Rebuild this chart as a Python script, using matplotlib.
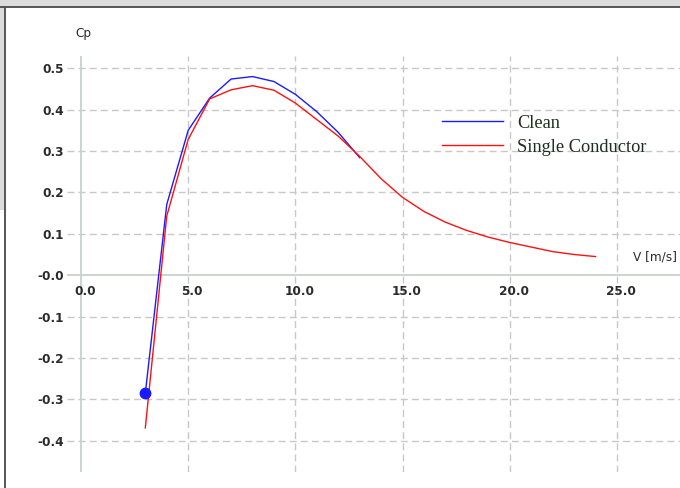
import matplotlib
matplotlib.use("Agg")
import matplotlib.pyplot as plt
import matplotlib.transforms as mtransforms
from matplotlib.lines import Line2D
from matplotlib.patches import Rectangle

# wind speed [m/s] and power coefficient
v_clean = [3, 4, 5, 6, 7, 8, 9, 10, 11, 12, 13]
cp_clean = [-0.285, 0.171, 0.350, 0.428, 0.474, 0.480, 0.468, 0.437, 0.395, 0.345, 0.284]

v_single = [3, 4, 5, 6, 7, 8, 9, 10, 11, 12, 13, 14, 15, 16, 17, 18, 19, 20, 21, 22, 23, 24]
cp_single = [-0.369, 0.143, 0.328, 0.426, 0.448, 0.458, 0.447, 0.416, 0.376, 0.336, 0.287,
             0.233, 0.188, 0.154, 0.128, 0.108, 0.092, 0.079, 0.068, 0.057, 0.050, 0.045]

x_ticks = [0, 5, 10, 15, 20, 25]
x_labels = ["0.0", "5.0", "10.0", "15.0", "20.0", "25.0"]
y_ticks = [-0.4, -0.3, -0.2, -0.1, 0.0, 0.1, 0.2, 0.3, 0.4, 0.5]
y_labels = ["-0.4", "-0.3", "-0.2", "-0.1", "-0.0", "0.1", "0.2", "0.3", "0.4", "0.5"]

txt = "#2b2b2b"
grid_c = "#c8c8c8"

fig = plt.figure(figsize=(6.8, 4.88), dpi=100)
W, H = 680, 488
ax = fig.add_axes([67 / W, (H - 472) / H, 1 - 67 / W, (472 - 56) / H])
ax.set_xlim(-0.653, 27.94)
ax.set_ylim(-0.4756, 0.5297)
for s in ax.spines.values():
    s.set_visible(False)

# dashed grid, solid axes through the origin
for x in x_ticks[1:]:
    ax.axvline(x, color=grid_c, lw=1.0, ls=(0, (5, 3)), zorder=0)
for y in y_ticks:
    if y != 0:
        ax.axhline(y, color=grid_c, lw=1.0, ls=(0, (5, 3)), zorder=0)
ax.axhline(0, color="#c9d1c9", lw=1.3, zorder=0)
ax.axvline(0, color="#c9d1c9", lw=1.3, zorder=0)

ax.plot(v_clean, cp_clean, color="#1a1aff", lw=1.0, label="Clean")
ax.plot(v_single, cp_single, color="#ff1010", lw=1.0, label="Single Conductor")
ax.plot(v_clean[0], cp_clean[0], "o", color="#1a1aff", ms=7.5)

ax.tick_params(length=0, colors=txt)
ax.set_xticks([])
ax.set_yticks(y_ticks)
ax.set_yticklabels(y_labels, fontsize=8.7, color=txt, fontweight="bold")
ax.tick_params(axis="y", pad=2)

# x tick labels sit just under the horizontal axis
off = mtransforms.ScaledTranslation(4 / 100, -16 / 100, fig.dpi_scale_trans)
for x, lab in zip(x_ticks, x_labels):
    ax.text(x, 0, lab, transform=ax.transData + off, ha="center", va="center",
            fontsize=8.7, color=txt, fontweight="bold")

fig.text(83 / W, 1 - 33 / H, "Cp", ha="center", va="center", fontsize=8.7, color=txt)
fig.text(655 / W, 1 - 257 / H, "V [m/s]", ha="center", va="center", fontsize=8.7, color=txt)

leg = ax.legend(loc="upper left", bbox_to_anchor=(442 / W, 1 - 114.5 / H),
                bbox_transform=fig.transFigure, frameon=False,
                prop={"family": "Liberation Serif", "size": 13.2},
                handlelength=3.33, handletextpad=0.77, labelspacing=0.39,
                borderpad=0, borderaxespad=0)
for t in leg.get_texts():
    t.set_color("#1e2e1e")

# window frame bits from the screenshot
fig.add_artist(Rectangle((0, 1 - 6 / H), 1, 6 / H, transform=fig.transFigure,
                         color="#dcdcdc", lw=0))
fig.add_artist(Rectangle((0, 1 - 210 / H), 4 / W, 210 / H, transform=fig.transFigure,
                         color="#dcdcdc", lw=0))
fig.add_artist(Line2D([0, 1], [1 - 6.5 / H] * 2, transform=fig.transFigure,
                      color="#555555", lw=1.4))
fig.add_artist(Line2D([4.5 / W] * 2, [0, 1 - 6.5 / H], transform=fig.transFigure,
                      color="#555555", lw=1.4))

fig.savefig("out.png", dpi=100)
